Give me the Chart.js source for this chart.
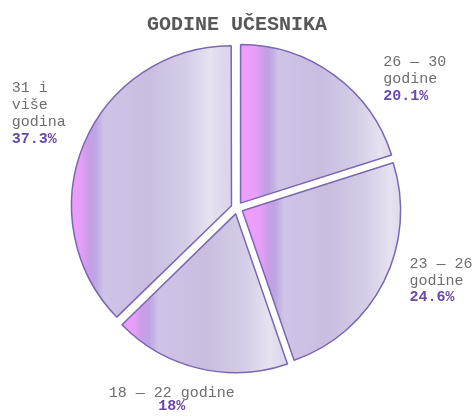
<!DOCTYPE html>
<html>
<head>
<meta charset="utf-8">
<script src="https://cdn.jsdelivr.net/npm/chart.js@4.4.1/dist/chart.umd.min.js"></script>
<style>
  html, body { margin: 0; padding: 0; background: #fff; }
  #wrap { width: 475px; height: 418px; }
</style>
</head>
<body>
<div id="wrap"><canvas id="myChart" width="475" height="418"></canvas></div>
<script>
// data
const categories = ['26 — 30 godine', '23 — 26 godine', '18 — 22 godine', '31 i više godina'];
const shares = [20.1, 24.6, 18, 37.3];
// how each label is broken into lines (percent goes underneath)
const labelLines = [
    ['26 — 30', 'godine'],
    ['23 — 26', 'godine'],
    ['18 — 22 godine'],
    ['31 i', 'više', 'godina']
];
const labelAlign = ['left', 'left', 'center', 'left'];
// nudge from the point just outside the slice middle
const labelNudge = [[48, -12], [24, -19], [-27, 23], [-72, -55]];

const FONT = "'Liberation Mono', 'DejaVu Sans Mono', monospace";

function sliceGradient(ctx, x0, x1) {
    const g = ctx.createLinearGradient(x0, 0, x1, 0);
    g.addColorStop(0, '#ef9dfb');
    g.addColorStop(0.08, '#e79ef8');
    g.addColorStop(0.13, '#c99de9');
    g.addColorStop(0.17, '#bca4e2');
    g.addColorStop(0.23, '#cfc4e7');
    g.addColorStop(0.5, '#c9bde0');
    g.addColorStop(0.75, '#d5cde7');
    g.addColorStop(0.9, '#e6e2f0');
    g.addColorStop(1, '#dcd5ec');
    return g;
}

const gradientFill = {
    id: 'gradientFill',
    beforeDatasetsDraw(chart) {
        const ctx = chart.ctx;
        const meta = chart.getDatasetMeta(0);
        meta.data.forEach(arc => {
            const {x, startAngle, endAngle, outerRadius} = arc.getProps(['x', 'startAngle', 'endAngle', 'outerRadius'], true);
            const off = (arc.options.offset || 0) / 4;
            const mid = (startAngle + endAngle) / 2;
            const cx = x + Math.cos(mid) * off;
            const angles = [startAngle, endAngle];
            for (let k = -2; k <= 6; k++) {
                const a = k * Math.PI / 2;
                if (a > startAngle && a < endAngle) angles.push(a);
            }
            const xs = [cx].concat(angles.map(a => cx + Math.cos(a) * outerRadius));
            const opts = Object.assign({}, arc.options);
            opts.backgroundColor = sliceGradient(ctx, Math.min(...xs), Math.max(...xs));
            arc.options = opts;
        });
    }
};

const outsideLabels = {
    id: 'outsideLabels',
    afterDatasetsDraw(chart) {
        const ctx = chart.ctx;
        const meta = chart.getDatasetMeta(0);
        ctx.save();
        ctx.textBaseline = 'middle';
        meta.data.forEach((arc, i) => {
            const {x, y, startAngle, endAngle, outerRadius} = arc.getProps(['x', 'y', 'startAngle', 'endAngle', 'outerRadius'], true);
            const mid = (startAngle + endAngle) / 2;
            const r = outerRadius + 8;
            const ax = x + Math.cos(mid) * r + labelNudge[i][0];
            const ay = y + Math.sin(mid) * r + labelNudge[i][1];
            const lines = labelLines[i];
            const lh = lines.length === 1 ? 13 : 17;
            ctx.textAlign = labelAlign[i];
            ctx.font = '15px ' + FONT;
            ctx.fillStyle = '#6e6e6e';
            lines.forEach((t, j) => ctx.fillText(t, ax, ay + j * lh));
            ctx.font = 'bold 15px ' + FONT;
            ctx.fillStyle = '#6a48ac';
            ctx.fillText(shares[i] + '%', ax, ay + lines.length * lh);
        });
        ctx.restore();
    }
};

const ctxEl = document.getElementById('myChart');

window.myChart = new Chart(ctxEl, {
    type: 'pie',
    data: {
        labels: categories,
        datasets: [{
            data: shares,
            backgroundColor: '#c9bde0',
            borderColor: '#7a68b2',
            borderWidth: 1.5,
            offset: 24
        }]
    },
    options: {
        responsive: false,
        animation: false,
        events: [],
        layout: {
            padding: { top: 5, bottom: 39, left: 66, right: 67 }
        },
        plugins: {
            legend: { display: false },
            tooltip: { enabled: false },
            title: {
                display: true,
                text: 'GODINE UČESNIKA',
                color: '#585858',
                font: { family: FONT, size: 20, weight: 'bold' },
                padding: { top: 8, bottom: 0 }
            }
        }
    },
    plugins: [gradientFill, outsideLabels]
});
</script>
</body>
</html>
